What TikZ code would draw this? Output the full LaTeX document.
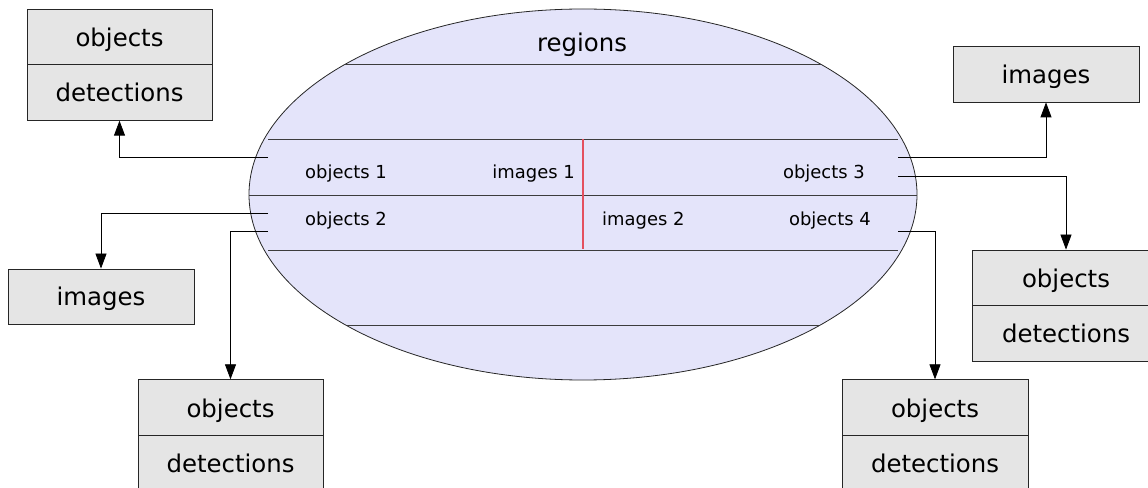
\documentclass[tikz,border=0pt]{standalone}
\usepackage{fontspec}
\setmainfont{DejaVu Sans}
\usetikzlibrary{shapes.geometric,arrows.meta}
\definecolor{lav}{RGB}{228,228,250}
\definecolor{boxgray}{RGB}{229,229,229}
\definecolor{redline}{RGB}{228,80,95}
\definecolor{linegray}{RGB}{60,60,60}
\begin{document}
\begin{tikzpicture}[x=1bp,y=-1bp,
  cell/.style={draw=black!85, fill=boxgray, line width=0.8bp, minimum width=185bp,
    minimum height=55.5bp, inner sep=0pt, text height=19bp, text depth=0pt,
    font=\fontsize{24.5}{28}\selectfont},
  lbl/.style={inner sep=0pt, font=\fontsize{18}{21}\selectfont},
  conn/.style={draw=black, line width=0.8bp, -{Triangle[length=15bp,width=11bp]}},
  sepline/.style={draw=linegray, line width=0.8bp}]
\clip (0,0) rectangle (1148,488);
% ellipse
\node[ellipse, draw=black!85, fill=lav, line width=0.8bp, minimum width=668bp,
  minimum height=371bp, inner sep=0pt] (reg) at (583,194.5) {};
\begin{scope}
  \clip (583,194.5) ellipse [x radius=334, y radius=185.5];
  \draw[sepline] (240,64) -- (930,64);
  \draw[sepline] (240,195) -- (930,195);
  \draw[sepline] (240,325) -- (930,325);
\end{scope}
\draw[sepline] (268,139) -- (898,139);
\draw[sepline] (268,250) -- (898,250);
\draw[draw=redline, line width=1.1bp] (583,139.5) -- (583,249.5);
% texts inside
\node[anchor=base, inner sep=0pt, font=\fontsize{24.5}{28}\selectfont] (title) at (582,52) {regions};
\node[lbl, anchor=base west] (o1) at (305,179) {objects 1};
\node[lbl, anchor=base east] (i1) at (575,179) {images 1};
\node[lbl, anchor=base east] (o3) at (865,179) {objects 3};
\node[lbl, anchor=base west] (o2) at (305,226) {objects 2};
\node[lbl, anchor=base west] (i2) at (602,226) {images 2};
\node[lbl, anchor=base east] (o4) at (871,226) {objects 4};
% boxes
\node[cell] (tlo) at (119.5,37) {objects};
\node[cell] (tld) at (119.5,92.5) {detections};
\node[cell, minimum width=186bp, minimum height=55bp] (limg) at (101,296.5) {images};
\node[cell] (blo) at (230.5,407.5) {objects};
\node[cell] (bld) at (230.5,463) {detections};
\node[cell, minimum width=186bp, minimum height=56bp] (trimg) at (1046,74) {images};
\node[cell, minimum width=188bp] (ro) at (1066,277.75) {objects};
\node[cell, minimum width=188bp] (rd) at (1066,333.25) {detections};
\node[cell, minimum width=186bp] (bro) at (935,407.5) {objects};
\node[cell, minimum width=186bp] (brd) at (935,463) {detections};
% ports
\coordinate (pl1) at (268,157);
\coordinate (pl2) at (268,213);
\coordinate (pl3) at (268,231);
\coordinate (pr1) at (898,157);
\coordinate (pr2) at (898,176);
\coordinate (pr3) at (898,231);
% connectors
\draw[conn] (pl1) -| (tld.south);
\draw[conn] (pl2) -| (limg.north);
\draw[conn] (pl3) -| (blo.north);
\draw[conn] (pr1) -| (trimg.south);
\draw[conn] (pr2) -| (ro.north);
\draw[conn] (pr3) -| (bro.north);
\end{tikzpicture}
\end{document}
